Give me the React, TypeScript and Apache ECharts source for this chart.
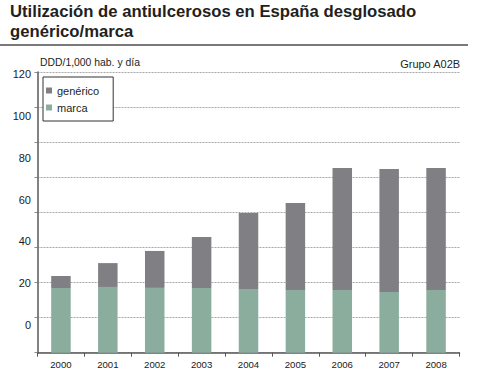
import React, { useEffect, useRef } from "react";
import * as echarts from "echarts";

const years = ["2000", "2001", "2002", "2003", "2004", "2005", "2006", "2007", "2008"];
const marca = [27.7, 28.1, 27.7, 27.7, 27.2, 26.8, 26.8, 25.9, 26.8];
const generico = [5.1, 10.2, 15.8, 21.8, 32.5, 37.2, 52.2, 52.6, 52.2];
const yTickLabels = [0, 20, 40, 60, 80, 100, 120];

const titleText = "Utilización de antiulcerosos en España desglosado\ngenérico/marca";
const unitText = "DDD/1,000 hab. y día";
const groupText = "Grupo A02B";

const FONT = "'Liberation Sans', Arial, sans-serif";

export default function App() {
  const ref = useRef<HTMLDivElement>(null);
  useEffect(() => {
    if (!ref.current) return;
    const chart = echarts.init(ref.current, null, { renderer: "svg" });
    chart.setOption({
      animation: false,
      backgroundColor: "#ffffff",
      textStyle: { fontFamily: FONT },
      title: [
        {
          text: titleText,
          left: 10,
          top: 2,
          padding: 0,
          textStyle: {
            fontFamily: FONT,
            fontSize: 16.7,
            fontWeight: "bold",
            color: "#231f20",
            lineHeight: 19.5,
          },
        },
        {
          text: unitText,
          left: 40,
          top: 57,
          padding: 0,
          textStyle: { fontFamily: FONT, fontSize: 10.4, fontWeight: "normal", color: "#231f20" },
        },
        {
          text: groupText,
          right: 16.3,
          top: 58,
          padding: 0,
          textStyle: { fontFamily: FONT, fontSize: 11, fontWeight: "normal", color: "#231f20" },
        },
      ],
      graphic: [
        {
          type: "line",
          shape: { x1: 0, y1: 45, x2: 468, y2: 45 },
          style: { stroke: "#4d4d4f", lineWidth: 1.3 },
        },
      ],
      legend: {
        data: ["genérico", "marca"],
        orient: "vertical",
        left: 43,
        top: 77,
        itemWidth: 6,
        itemHeight: 6,
        itemGap: 6,
        icon: "rect",
        padding: [8, 14, 8, 3],
        borderColor: "#333333",
        borderWidth: 1,
        backgroundColor: "#ffffff",
        textStyle: { fontFamily: FONT, fontSize: 11, color: "#231f20" },
        z: 10,
      },
      grid: { left: 37.5, right: 17.5, top: 72, bottom: 30.3, containLabel: false },
      xAxis: {
        type: "category",
        data: years,
        boundaryGap: true,
        axisLine: { show: true, lineStyle: { color: "#58585a", width: 1.5 } },
        axisTick: { show: true, length: 4, lineStyle: { color: "#58585a", width: 1 } },
        axisLabel: {
          fontFamily: FONT,
          fontSize: 9.6,
          color: "#1a1a1a",
          margin: 7,
        },
      },
      yAxis: [
        {
          type: "value",
          min: 0,
          max: 120,
          interval: 15,
          position: "left",
          axisLine: { show: true, onZero: false, lineStyle: { color: "#58585a", width: 1.5 } },
          axisTick: { show: true, length: 3, lineStyle: { color: "#8a8a8a", width: 1 } },
          axisLabel: { show: false },
          splitLine: { show: true, lineStyle: { color: "#a8a8a8", width: 1, type: [2, 1] } },
        },
        {
          type: "value",
          min: -13.24,
          max: 120.96,
          position: "left",
          axisLine: { show: false },
          axisTick: { show: false },
          splitLine: { show: false },
          axisLabel: {
            show: true,
            customValues: yTickLabels,
            fontFamily: FONT,
            fontSize: 11,
            color: "#1a1a1a",
            margin: 6.5,
          },
        },
      ],
      series: [
        {
          name: "marca",
          type: "bar",
          stack: "total",
          yAxisIndex: 0,
          data: marca,
          barWidth: 19.5,
          itemStyle: { color: "#8aad9e" },
        },
        {
          name: "genérico",
          type: "bar",
          stack: "total",
          yAxisIndex: 0,
          data: generico,
          barWidth: 19.5,
          itemStyle: { color: "#808084" },
        },
      ],
    });
    return () => chart.dispose();
  }, []);
  return (
    <div
      ref={ref}
      style={{ position: "fixed", left: 0, top: 0, width: 477, height: 383 }}
    />
  );
}
